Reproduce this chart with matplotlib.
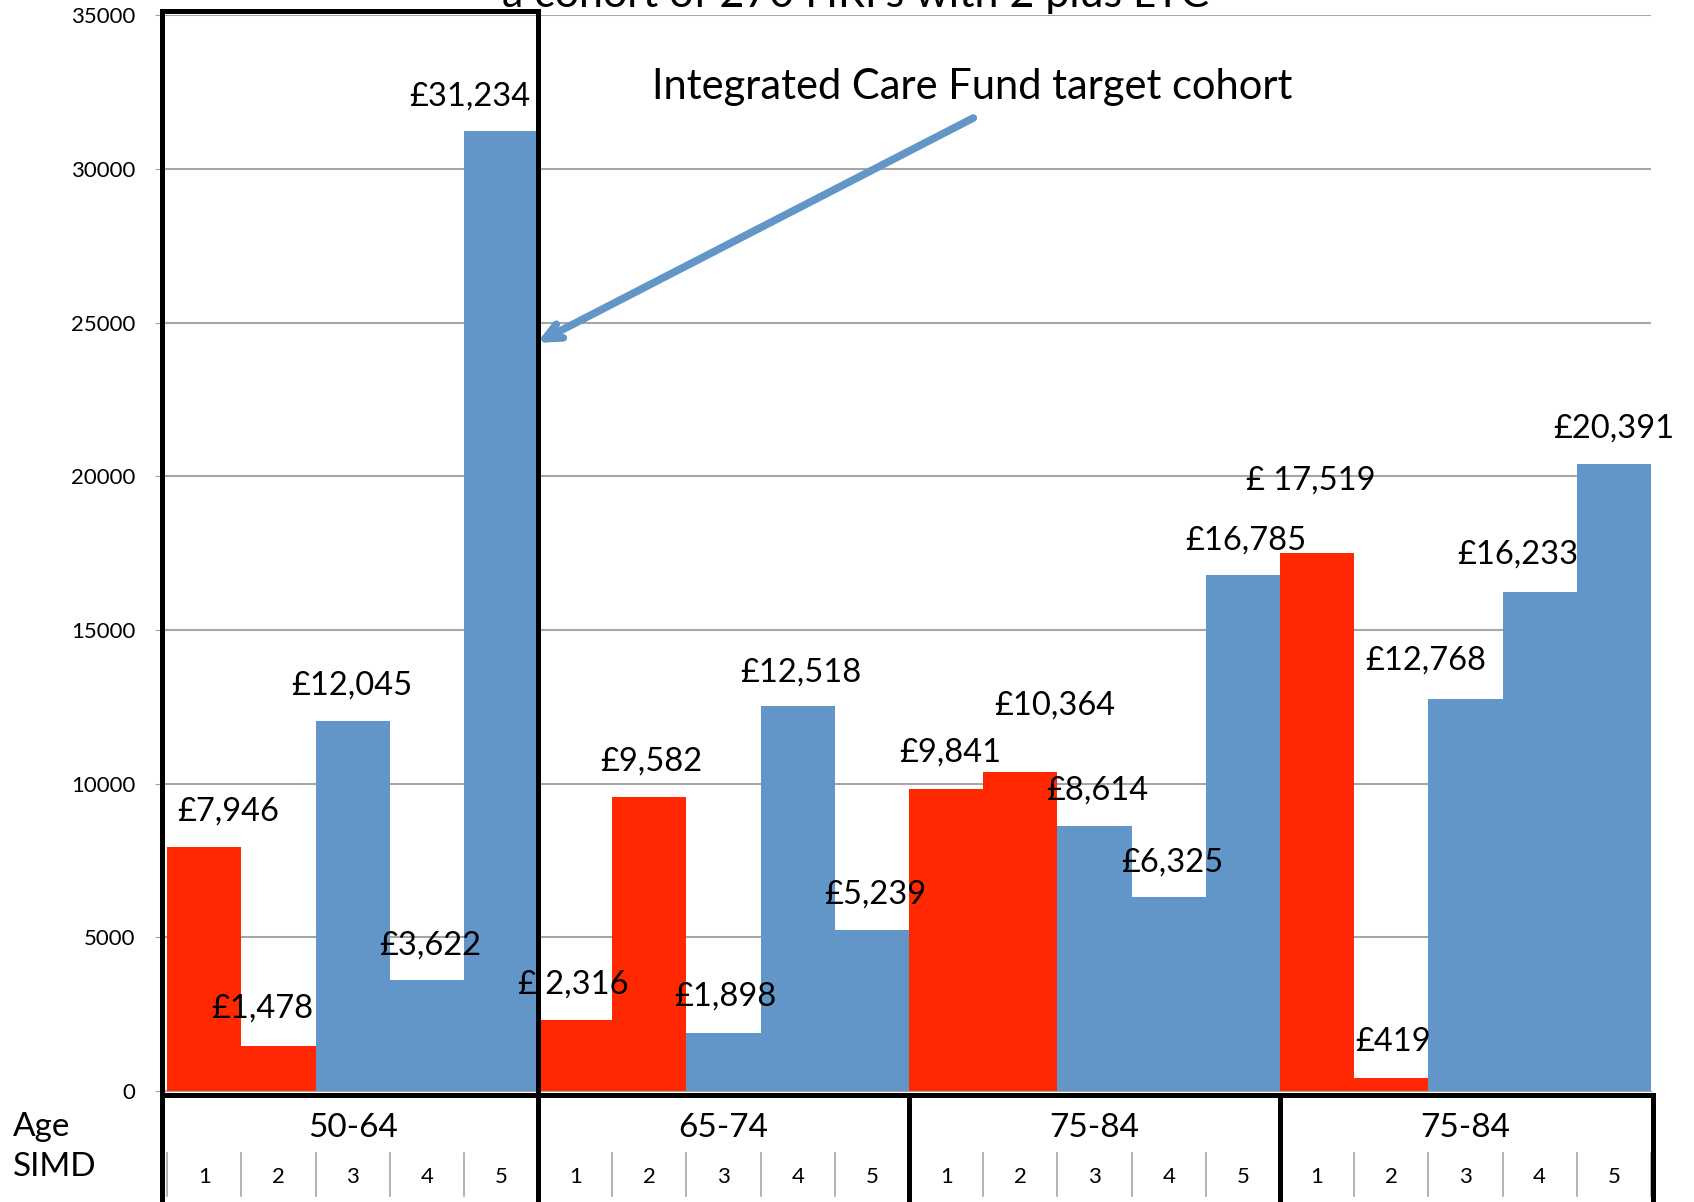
import numpy as np
import matplotlib
matplotlib.use('Agg')
import matplotlib.pyplot as plt
import matplotlib.transforms as mtransforms

plt.rcParams['font.family'] = ['Lato', 'DejaVu Sans']

# data
age_groups = ['50-64', '65-74', '75-84', '75-84']
simd = ['1', '2', '3', '4', '5']
costs = [7946, 1478, 12045, 3622, 31234,
         2316, 9582, 1898, 12518, 5239,
         9841, 10364, 8614, 6325, 16785,
         17519, 419, 12768, 16233, 20391]
is_red = [1, 1, 0, 0, 0,
          1, 1, 0, 0, 0,
          1, 1, 0, 0, 0,
          1, 1, 0, 0, 0]
cost_labels = ['£7,946', '£1,478', '£12,045', '£3,622', '£31,234',
               '£ 2,316', '£9,582', '£1,898', '£12,518', '£5,239',
               '£9,841', '£10,364', '£8,614', '£6,325', '£16,785',
               '£ 17,519', '£419', '£12,768', '£16,233', '£20,391']

# where each value label sits (data coords)
label_xy = [(0.32, 9100), (0.78, 2700), (1.99, 13180), (3.04, 4740), (3.58, 32360),
            (4.98, 3480), (6.03, 10720), (7.03, 3060), (8.04, 13630), (9.04, 6400),
            (10.05, 11000), (11.47, 12540), (12.04, 9770), (13.05, 7450), (14.04, 17920),
            (14.91, 19850), (16.03, 1580), (16.47, 14020), (17.71, 17460), (19.0, 21540)]

red = '#FF2800'
blue = '#6296C9'
grid_grey = '#A6A6A6'

fig = plt.figure(figsize=(16.94, 12.02), dpi=100)
ax = fig.add_axes([0.0956, 0.0923, 0.879, 0.895])

x = np.arange(len(costs))
colors = [red if r else blue for r in is_red]
ax.bar(x, costs, width=1.0, color=colors, zorder=2)

for (lx, ly), txt in zip(label_xy, cost_labels):
    ax.text(lx, ly, txt, ha='center', va='center', fontsize=23.5, zorder=4)

ax.set_xlim(-0.57, 19.5)
ax.set_ylim(0, 35000)
ax.set_yticks(np.arange(0, 35001, 5000))
ax.tick_params(axis='y', labelsize=16, length=5, color=grid_grey, pad=14)
ax.set_xticks([])
ax.yaxis.grid(True, color=grid_grey, linewidth=1.5, zorder=0)
ax.set_axisbelow(True)
for s in ['top', 'right', 'left']:
    ax.spines[s].set_visible(False)
ax.spines['bottom'].set_color(grid_grey)

lw = 3.6
# box round the first age group, running down into the table
ax.plot([-0.57, -0.57, 4.5, 4.5], [-1, 35130, 35130, -1], color='black',
        lw=lw, clip_on=False, zorder=5, solid_joinstyle='miter')

# table below the axis
trans = mtransforms.blended_transform_factory(ax.transData, ax.transAxes)
ax.plot([-0.57, 19.53], [-0.004, -0.004], color='black', lw=lw,
        transform=trans, clip_on=False, zorder=5)
for bx in [-0.57, 4.5, 9.5, 14.5, 19.53]:
    ax.plot([bx, bx], [-0.004, -0.12], color='black', lw=lw,
            transform=trans, clip_on=False, zorder=5)

for g, name in enumerate(age_groups):
    ax.text(g * 5 + 2, -0.034, name, ha='center', va='center', fontsize=24,
            transform=trans)
    for k, s in enumerate(simd):
        ax.text(g * 5 + k, -0.08, s, ha='center', va='center', fontsize=16,
                transform=trans)
for bx in np.arange(-0.5, 20, 1.0):
    ax.plot([bx, bx], [-0.058, -0.098], color=grid_grey, lw=1.2,
            transform=trans, clip_on=False, zorder=3)

fig.text(0.0077, 0.0624, 'Age', ha='left', va='center', fontsize=24)
fig.text(0.0077, 0.029, 'SIMD', ha='left', va='center', fontsize=24)

# annotation and arrow
ax.annotate('', xy=(4.45, 24300), xytext=(10.4, 31700),
            arrowprops=dict(arrowstyle='->,head_length=1.2,head_width=0.55',
                            color=blue, lw=5.5), zorder=6)
ax.text(10.35, 32650, 'Integrated Care Fund target cohort', ha='center',
        va='center', fontsize=30, zorder=6)

# title, cut off at the top of the original
fig.text(0.505, 1 - 7 / 1202, "a cohort of 270 HRI's with 2 plus LTC",
         ha='center', va='baseline', fontsize=31)

fig.savefig('out.png', dpi=100)
